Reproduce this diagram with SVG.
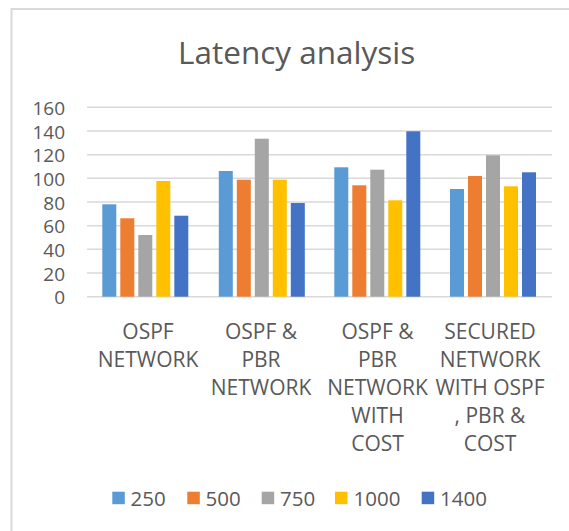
<svg xmlns="http://www.w3.org/2000/svg" width="569" height="531" viewBox="0 0 569 531">
<style>
  .t { font-family: "Open Sans", "Liberation Sans", sans-serif; fill: #595959; }
  .ax { font-size: 19px; text-anchor: end; }
  .cat { font-size: 21px; text-anchor: middle; }
  .lg { font-size: 20.5px; }
  .grid { stroke: #D9D9D9; stroke-width: 1.6; }
  .s1 { fill: #5B9BD5; }
  .s2 { fill: #ED7D31; }
  .s3 { fill: #A5A5A5; }
  .s4 { fill: #FFC000; }
  .s5 { fill: #4472C4; }
</style>
<rect x="0" y="0" width="569" height="531" fill="#FFFFFF"/>
<path d="M11.5 531 V9 H569" fill="none" stroke="#D9D9D9" stroke-width="2"/>
<g id="title">
  <text class="t" x="296.7" y="64.3" font-size="31.5" text-anchor="middle">Latency analysis</text>
</g>
<g id="grid">
  <line class="grid" x1="87" y1="107.3" x2="552" y2="107.3"/>
  <line class="grid" x1="87" y1="131" x2="552" y2="131"/>
  <line class="grid" x1="87" y1="154.7" x2="552" y2="154.7"/>
  <line class="grid" x1="87" y1="178.3" x2="552" y2="178.3"/>
  <line class="grid" x1="87" y1="202" x2="552" y2="202"/>
  <line class="grid" x1="87" y1="225.7" x2="552" y2="225.7"/>
  <line class="grid" x1="87" y1="249.3" x2="552" y2="249.3"/>
  <line class="grid" x1="87" y1="273" x2="552" y2="273"/>
  <line class="grid" x1="87" y1="296.7" x2="552" y2="296.7"/>
</g>
<g id="y-axis" class="t ax">
  <text x="65" y="115">160</text>
  <text x="65" y="138.7">140</text>
  <text x="65" y="162.4">120</text>
  <text x="65" y="186">100</text>
  <text x="65" y="209.7">80</text>
  <text x="65" y="233.4">60</text>
  <text x="65" y="257">40</text>
  <text x="65" y="280.7">20</text>
  <text x="65" y="304.4">0</text>
</g>
<g id="group-ospf">
  <rect class="s1" x="102.3" y="204.3" width="14" height="92.4"/>
  <rect class="s2" x="120.3" y="218.3" width="14" height="78.4"/>
  <rect class="s3" x="138.3" y="235" width="14" height="61.7"/>
  <rect class="s4" x="156.3" y="181" width="14" height="115.7"/>
  <rect class="s5" x="174.3" y="215.7" width="14" height="81"/>
</g>
<g id="group-ospf-pbr">
  <rect class="s1" x="218.8" y="171" width="14" height="125.7"/>
  <rect class="s2" x="236.8" y="179.7" width="14" height="117"/>
  <rect class="s3" x="254.8" y="138.7" width="14" height="158"/>
  <rect class="s4" x="272.8" y="179.7" width="14" height="117"/>
  <rect class="s5" x="290.8" y="203" width="14" height="93.7"/>
</g>
<g id="group-ospf-pbr-cost">
  <rect class="s1" x="334.3" y="167.3" width="14" height="129.4"/>
  <rect class="s2" x="352.3" y="185.3" width="14" height="111.4"/>
  <rect class="s3" x="370.3" y="169.7" width="14" height="127"/>
  <rect class="s4" x="388.3" y="200.3" width="14" height="96.4"/>
  <rect class="s5" x="406.3" y="131.3" width="14" height="165.4"/>
</g>
<g id="group-secured">
  <rect class="s1" x="450" y="189" width="14" height="107.7"/>
  <rect class="s2" x="468" y="176" width="14" height="120.7"/>
  <rect class="s3" x="486" y="155.3" width="14" height="141.4"/>
  <rect class="s4" x="504" y="186.3" width="14" height="110.4"/>
  <rect class="s5" x="522" y="172.3" width="14" height="124.4"/>
</g>
<g id="categories" class="t cat">
  <text x="148" y="339">OSPF</text>
  <text x="148" y="367">NETWORK</text>
  <text x="261" y="339">OSPF &amp;</text>
  <text x="261" y="367">PBR</text>
  <text x="261" y="395">NETWORK</text>
  <text x="377.5" y="339">OSPF &amp;</text>
  <text x="377.5" y="367">PBR</text>
  <text x="377.5" y="395">NETWORK</text>
  <text x="377.5" y="423">WITH</text>
  <text x="377.5" y="451">COST</text>
  <text x="490" y="339">SECURED</text>
  <text x="490" y="367">NETWORK</text>
  <text x="490" y="395">WITH OSPF</text>
  <text x="490" y="423">, PBR &amp;</text>
  <text x="490" y="451">COST</text>
</g>
<g id="legend">
  <rect class="s1" x="112.3" y="491.7" width="12.5" height="12.5"/>
  <text class="t lg" x="130.5" y="505.7">250</text>
  <rect class="s2" x="187.3" y="491.7" width="12.5" height="12.5"/>
  <text class="t lg" x="205.5" y="505.7">500</text>
  <rect class="s3" x="261.7" y="491.7" width="12.5" height="12.5"/>
  <text class="t lg" x="280" y="505.7">750</text>
  <rect class="s4" x="335" y="491.7" width="12.5" height="12.5"/>
  <text class="t lg" x="353.5" y="505.7">1000</text>
  <rect class="s5" x="421.7" y="491.7" width="12.5" height="12.5"/>
  <text class="t lg" x="440" y="505.7">1400</text>
</g>
</svg>
